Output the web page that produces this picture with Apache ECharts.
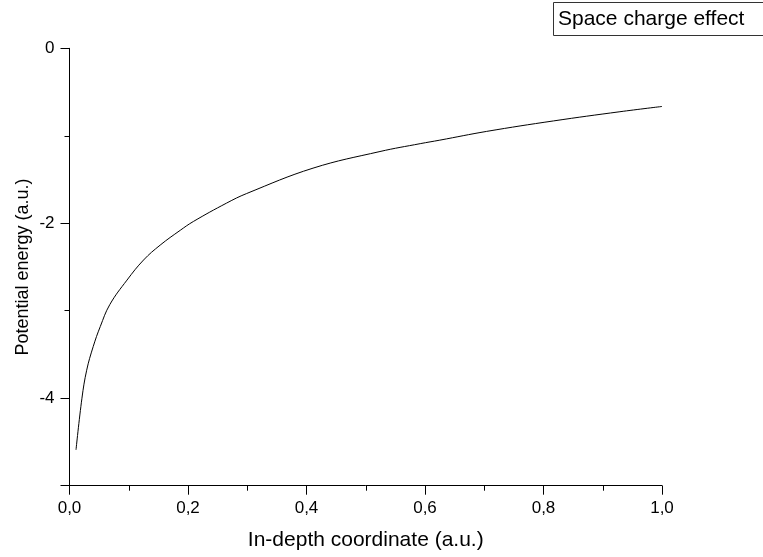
<!DOCTYPE html>
<html>
<head>
<meta charset="utf-8">
<script src="https://cdn.jsdelivr.net/npm/echarts@6/dist/echarts.min.js"></script>
<style>
html,body{margin:0;padding:0;background:#fff;}
#chart{width:763px;height:557px;}
</style>
</head>
<body>
<div id="chart"></div>
<script>
// Values
var depth = [0.011, 0.021, 0.029, 0.040, 0.052, 0.068, 0.097, 0.125, 0.153, 0.187, 0.209, 0.265, 0.299, 0.411, 0.524, 0.592, 0.625, 0.704, 0.817, 0.929, 1.0];
var energy = [-4.59, -4.00, -3.68, -3.41, -3.18, -2.93, -2.65, -2.42, -2.25, -2.08, -1.98, -1.77, -1.66, -1.37, -1.18, -1.09, -1.05, -0.95, -0.83, -0.725, -0.665];
var yTickLabels = ['0', '-2', '-4'];
var seriesName = 'Space charge effect';

var points = depth.map(function (x, i) { return [x, energy[i]]; });
var FONT = '"Liberation Sans", Arial, sans-serif';

var chart = echarts.init(document.getElementById('chart'), null, {renderer: 'canvas'});
chart.setOption({
  backgroundColor: '#ffffff',
  animation: false,
  title: {
    text: seriesName,
    left: 553,
    top: 2,
    padding: [4, 30, 4, 5],
    borderColor: '#333',
    borderWidth: 1,
    textStyle: {fontFamily: FONT, fontSize: 21, fontWeight: 'normal', color: '#000', lineHeight: 26}
  },
  grid: {left: 69.5, right: 101, top: 48.3, bottom: 71.3, containLabel: false},
  xAxis: {
    type: 'value',
    min: 0, max: 1, interval: 0.2,
    name: 'In-depth coordinate (a.u.)',
    nameLocation: 'middle',
    nameGap: 44,
    nameTextStyle: {fontFamily: FONT, fontSize: 21, color: '#000'},
    axisLine: {show: true, onZero: false, lineStyle: {color: '#000', width: 1}},
    axisTick: {show: true, inside: false, length: 9, lineStyle: {color: '#000', width: 1}},
    minorTick: {show: true, splitNumber: 2, length: 5, lineStyle: {color: '#000', width: 1}},
    splitLine: {show: false},
    minorSplitLine: {show: false},
    axisLabel: {
      margin: 14,
      fontFamily: FONT, fontSize: 17, color: '#000',
      formatter: function (v) { return v.toFixed(1).replace('.', ','); }
    }
  },
  yAxis: [{
    type: 'value',
    min: -5, max: 0, interval: 1,
    position: 'left',
    offset: 0,
    name: 'Potential energy (a.u.)',
    nameLocation: 'middle',
    nameGap: 37,
    nameTextStyle: {fontFamily: FONT, fontSize: 18, color: '#000'},
    axisLine: {show: true, onZero: false, lineStyle: {color: '#000', width: 1}},
    axisTick: {show: true, inside: false, length: 5, lineStyle: {color: '#000', width: 1}},
    splitLine: {show: false},
    axisLabel: {show: false}
  }, {
    type: 'value',
    min: 0, max: 5, interval: 2,
    inverse: true,
    position: 'left',
    offset: 0,
    axisLine: {show: false},
    axisTick: {show: true, inside: false, length: 9, lineStyle: {color: '#000', width: 1}},
    splitLine: {show: false},
    axisLabel: {
      margin: 15,
      fontFamily: FONT, fontSize: 17, color: '#000',
      formatter: function (v) { return yTickLabels[Math.round(v / 2)]; }
    }
  }],
  series: [{
    name: seriesName,
    type: 'line',
    xAxisIndex: 0,
    yAxisIndex: 0,
    data: points,
    smooth: 0.4,
    showSymbol: false,
    symbol: 'none',
    lineStyle: {color: '#000', width: 1}
  }]
});
</script>
</body>
</html>
